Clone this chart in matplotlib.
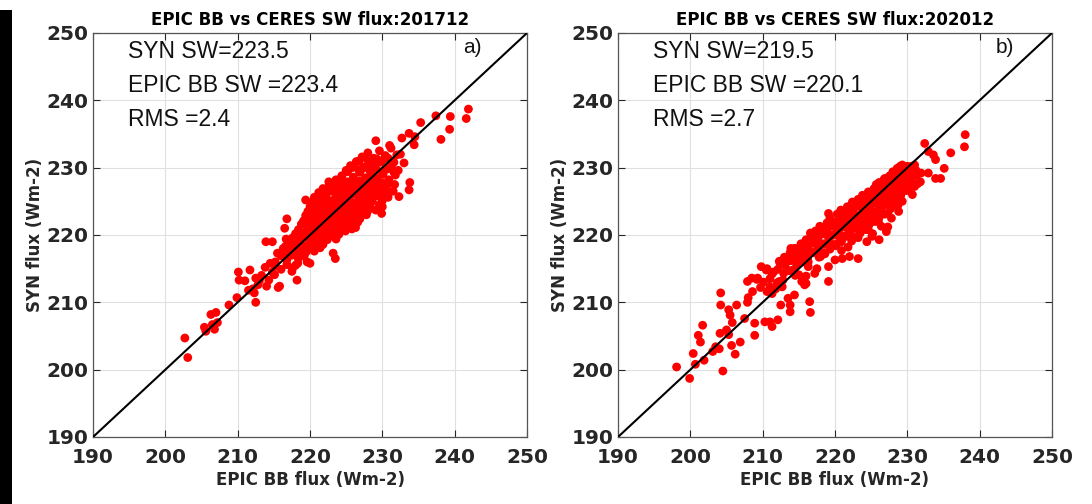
import numpy as np
import matplotlib.pyplot as plt
from matplotlib.patches import Rectangle

# --- data ---
LIMS = [190, 250]
TICKS = [190, 200, 210, 220, 230, 240, 250]

titles = ['EPIC BB vs CERES SW flux:201712', 'EPIC BB vs CERES SW flux:202012']
panel_tags = ['a)', 'b)']
stats_lines = [
    ['SYN SW=223.5', 'EPIC BB SW =223.4', 'RMS =2.4'],
    ['SYN SW=219.5', 'EPIC BB SW =220.1', 'RMS =2.7'],
]

# panel a) 201712  (EPIC BB flux, SYN flux)
epic_1712 = [
    202.7, 203.1, 205.4, 205.6, 206.3, 206.8, 207.0, 207.2, 206.5, 208.8, 209.9, 210.1, 210.2, 211.0,
    211.7, 212.1, 212.3, 212.5, 212.5, 213.0, 213.9, 214.8, 214.0, 214.3, 215.1, 215.6, 215.8, 215.2,
    214.8, 216.5, 216.8, 216.7, 216.3, 217.5, 218.0, 218.2, 218.3, 217.5, 219.4, 219.6, 220.2, 220.0,
    223.2, 223.5, 227.1, 230.0, 229.9, 232.3, 233.8, 233.7, 233.0, 229.1, 232.7, 233.7, 234.4, 234.5,
    235.3, 237.4, 238.1, 239.3, 239.4, 241.6, 241.9, 231.0, 232.5,
    227.2, 228.0, 228.8, 229.6, 230.4, 231.2, 232.0,
    225.6, 226.4, 227.3, 228.1, 228.9, 229.7, 230.5, 231.3, 232.2,
    224.4, 225.2, 226.0, 226.9, 227.7, 228.5, 229.3, 230.1, 230.9, 231.8,
    222.6, 223.4, 224.2, 225.0, 225.8, 226.6, 227.4, 228.2, 229.0, 229.8, 230.6, 231.5,
    221.2, 222.0, 222.8, 223.6, 224.4, 225.2, 226.0, 226.8, 227.6, 228.4, 229.2, 230.0, 230.8,
    220.3, 221.1, 221.9, 222.7, 223.5, 224.3, 225.1, 225.9, 226.7, 227.5, 228.3, 229.1,
    219.7, 220.5, 221.3, 222.1, 222.9, 223.7, 224.5, 225.3, 226.1, 226.9, 227.8,
    219.1, 219.9, 220.7, 221.5, 222.3, 223.1, 223.9, 224.7, 225.5, 226.3,
    218.4, 219.2, 220.0, 220.8, 221.6, 222.4, 223.2, 224.0, 224.9, 225.8,
    217.6, 218.4, 219.2, 220.0, 220.8, 221.6, 222.4, 223.3,
    216.6, 217.4, 218.2, 219.0, 219.8, 220.6, 221.4,
    216.0, 216.8, 217.6, 218.4, 219.2,
    215.2, 216.0, 216.8, 217.6,
    213.3, 213.8, 214.5, 215.5, 216.1, 212.8, 211.5,
    226.8, 227.6, 228.4, 229.2, 230.0, 230.8, 231.6,
    225.0, 225.8, 226.7, 227.5, 228.3, 229.1, 229.9, 230.7, 231.6,
    223.6, 224.4, 225.2, 226.0, 226.8, 227.6, 228.4, 229.2, 230.0, 230.8, 231.7,
    221.8, 222.6, 223.4, 224.2, 225.0, 225.8, 226.6, 227.4, 228.2, 229.0, 229.8, 230.6,
    220.6, 221.4, 222.2, 223.0, 223.8, 224.6, 225.4, 226.2, 227.0, 227.8, 228.6, 229.6,
    220.0, 220.8, 221.6, 222.4, 223.2, 224.0, 224.8, 225.6, 226.4, 227.2, 228.0,
    219.4, 220.2, 221.0, 221.8, 222.6, 223.4, 224.2, 225.0, 225.8, 226.6,
    218.8, 219.6, 220.4, 221.2, 222.0, 222.8, 223.6, 224.4, 225.2,
    218.0, 218.8, 219.6, 220.4, 221.2, 222.0, 222.8, 223.6,
    217.0, 217.8, 218.6, 219.4, 220.2, 221.0, 221.8,
    216.3, 217.1, 217.9, 218.7, 219.5,
]
syn_1712 = [
    204.7, 201.8, 206.3, 205.7, 208.2, 206.0, 208.5, 207.0, 206.7, 209.6, 210.7, 214.5, 213.3, 213.2,
    214.8, 212.0, 211.4, 213.6, 210.0, 213.2, 219.0, 219.0, 212.4, 213.3, 214.1, 212.2, 212.4, 216.0,
    214.5, 221.0, 222.4, 219.4, 218.0, 217.0, 215.5, 213.3, 215.8, 214.6, 225.2, 216.0, 218.3, 215.8,
    217.3, 216.5, 223.0, 224.2, 223.2, 225.7, 227.8, 226.7, 230.7, 234.0, 234.4, 235.1, 233.4, 234.6,
    236.7, 237.7, 234.2, 235.7, 237.6, 237.3, 238.7, 233.3, 232.0,
    231.6, 232.2, 231.4, 232.5, 231.8, 232.9, 231.9,
    230.3, 230.9, 229.9, 230.7, 230.1, 230.8, 229.8, 230.4, 229.6,
    228.8, 229.4, 228.6, 229.3, 228.5, 229.1, 228.4, 229.0, 228.2, 228.9,
    227.9, 227.2, 228.1, 227.4, 227.8, 227.0, 227.6, 226.9, 227.5, 226.8, 227.3, 226.5,
    226.3, 225.8, 226.5, 225.7, 226.2, 225.5, 226.1, 225.4, 225.9, 225.2, 225.8, 225.1, 225.6,
    224.9, 224.4, 225.0, 224.3, 224.8, 224.1, 224.6, 223.9, 224.5, 223.8, 224.4, 223.7,
    223.5, 222.9, 223.6, 223.0, 223.4, 222.7, 223.3, 222.6, 223.1, 222.4, 223.0,
    222.1, 221.6, 222.3, 221.7, 222.2, 221.5, 222.0, 221.3, 221.9, 221.1,
    220.8, 220.3, 221.0, 220.4, 220.9, 220.2, 220.7, 220.1, 220.6, 220.9,
    219.6, 219.1, 219.7, 219.0, 219.5, 218.9, 219.3, 219.8,
    218.3, 217.8, 218.4, 217.7, 218.2, 217.6, 218.1,
    216.9, 216.3, 217.1, 216.5, 216.9,
    215.4, 214.9, 215.6, 215.1,
    214.0, 215.2, 215.8, 217.3, 217.5, 212.6, 211.8,
    231.0, 231.5, 230.9, 231.3, 231.1, 231.4, 230.8,
    229.6, 230.0, 229.7, 230.1, 229.5, 229.9, 229.4, 229.8, 229.3,
    228.2, 228.6, 227.9, 228.4, 228.0, 228.3, 227.8, 228.2, 227.7, 227.9, 227.5,
    226.9, 227.2, 226.6, 227.0, 226.5, 226.9, 226.4, 226.7, 226.2, 226.5, 226.0, 226.3,
    225.6, 225.2, 225.7, 225.1, 225.5, 225.0, 225.3, 224.8, 225.2, 224.7, 225.0, 224.5,
    224.2, 223.8, 224.3, 223.7, 224.1, 223.5, 223.9, 223.4, 223.8, 223.2, 223.6,
    222.9, 222.4, 222.8, 222.3, 222.7, 222.2, 222.6, 222.0, 222.5, 221.9,
    221.6, 221.1, 221.5, 221.0, 221.4, 220.9, 221.3, 220.8, 221.2,
    220.2, 219.8, 220.3, 219.7, 220.1, 219.6, 220.0, 219.4,
    218.9, 218.5, 219.0, 218.4, 218.8, 218.3, 218.6,
    217.6, 217.2, 217.7, 217.1, 217.5,
]

# panel b) 202012
epic_2012 = [
    198.1, 199.9, 200.4, 200.7, 201.7, 201.1, 201.4, 201.9, 203.1, 203.5, 204.1, 204.0, 204.2, 204.2,
    204.5, 205.3, 205.5, 205.0, 205.3, 205.7, 206.2, 206.4, 205.8, 206.9, 207.5, 208.0, 207.9, 208.6,
    207.9, 208.5, 208.9, 208.9, 209.3, 209.8, 210.3, 211.0, 211.3, 210.6, 211.5, 211.0, 211.3, 212.1,
    212.3, 212.7, 212.4, 213.2, 213.9, 212.5, 213.5, 213.8, 213.8, 214.4, 214.2, 215.0, 214.4, 215.3,
    215.4, 215.8, 216.3, 216.1, 216.3, 216.6, 216.5, 216.6, 216.0, 216.0, 217.2, 217.5, 218.0, 217.6,
    218.1, 218.6, 219.1, 219.1, 219.1, 220.0, 221.0, 222.0, 223.2, 224.4, 225.1, 226.1, 227.1, 227.3,
    228.8, 231.8, 231.0, 231.9, 232.9, 233.9, 234.6, 235.1, 232.4, 232.9, 233.6, 233.9, 236.0, 238.0,
    237.9, 231.0, 230.0, 229.0, 229.5,
    228.6, 229.3, 229.9, 230.6, 231.2,
    227.5, 228.2, 228.9, 229.6, 230.4, 231.3,
    226.1, 226.8, 227.5, 228.2, 228.9, 229.7, 230.5, 231.4,
    225.4, 226.1, 226.9, 227.6, 228.3, 229.1, 229.9, 230.7,
    223.8, 224.6, 225.3, 226.1, 226.8, 227.6, 228.4, 229.3,
    222.4, 223.1, 223.9, 224.6, 225.4, 226.1, 226.9, 227.7, 228.6,
    220.8, 221.5, 222.3, 223.0, 223.8, 224.5, 225.3, 226.1, 226.9, 227.8,
    219.3, 220.1, 220.9, 221.6, 222.4, 223.1, 223.9, 224.7, 225.5, 226.4,
    217.9, 218.7, 219.5, 220.3, 221.1, 221.9, 222.7, 223.5, 224.3, 225.2,
    216.7, 217.5, 218.3, 219.1, 219.9, 220.7, 221.5, 222.3, 223.2,
    215.3, 216.1, 216.9, 217.7, 218.5, 219.3, 220.1, 220.9, 221.8,
    213.8, 214.6, 215.4, 216.2, 217.0, 217.8, 218.6,
    212.3, 213.1, 213.9, 214.7, 215.5, 216.3,
    210.5, 211.3, 212.1, 212.9, 213.7, 214.5,
    209.2, 210.1, 211.0, 212.0, 212.8,
    209.7, 210.6, 211.8,
    228.0, 228.7, 229.4, 230.1, 230.8,
    226.9, 227.6, 228.3, 229.0, 229.8, 230.6,
    225.7, 226.4, 227.2, 227.9, 228.6, 229.4, 230.2,
    224.6, 225.3, 226.1, 226.8, 227.5, 228.3, 229.1,
    223.2, 224.0, 224.7, 225.5, 226.2, 227.0, 227.8, 228.7,
    221.7, 222.5, 223.2, 224.0, 224.8, 225.6, 226.4, 227.3,
    220.3, 221.1, 221.9, 222.7, 223.5, 224.3, 225.1, 226.0,
    218.9, 219.7, 220.5, 221.3, 222.1, 222.9, 223.7, 224.6,
    217.3, 218.1, 218.9, 219.7, 220.5, 221.3, 222.1, 223.0,
    216.0, 216.8, 217.6, 218.4, 219.2, 220.0, 220.9,
    214.5, 215.3, 216.1, 216.9, 217.7, 218.5,
    213.0, 213.8, 214.6, 215.4, 216.2,
]
syn_2012 = [
    200.4, 198.7, 202.4, 200.8, 206.6, 205.1, 204.1, 201.4, 202.7, 203.4, 205.4, 203.1, 211.4, 209.6,
    199.8, 208.9, 208.1, 205.9, 205.2, 203.6, 202.3, 209.6, 207.0, 204.1, 207.6, 210.7, 210.0, 211.6,
    213.1, 213.6, 206.9, 205.1, 213.6, 215.3, 207.1, 212.3, 211.3, 215.0, 214.5, 207.1, 206.4, 207.4,
    213.1, 212.3, 215.8, 216.3, 218.0, 209.6, 210.6, 209.6, 208.6, 211.1, 214.8, 214.1, 218.0, 217.0,
    213.1, 212.6, 218.0, 216.5, 216.0, 220.3, 210.1, 208.5, 213.9, 212.8, 214.3, 215.0, 216.8, 218.3,
    220.3, 221.2, 213.1, 215.3, 223.2, 216.3, 216.5, 216.8, 216.5, 219.0, 219.8, 219.3, 220.5, 221.2,
    223.5, 227.9, 227.2, 229.2, 229.2, 228.4, 228.4, 229.9, 233.6, 232.4, 231.9, 231.2, 232.2, 234.9,
    233.1, 230.4, 230.2, 230.2, 229.7,
    229.9, 230.4, 229.7, 230.2, 229.6,
    228.7, 229.3, 228.6, 229.1, 228.5, 228.9,
    227.8, 228.3, 227.6, 228.1, 227.4, 227.9, 227.2, 227.6,
    226.9, 226.3, 227.0, 226.4, 226.8, 226.1, 226.6, 226.0,
    225.9, 225.3, 226.0, 225.4, 225.8, 225.1, 225.6, 225.0,
    224.9, 224.3, 224.8, 224.2, 224.7, 224.0, 224.5, 223.9, 224.4,
    223.7, 223.1, 223.6, 222.9, 223.4, 222.8, 223.3, 222.6, 223.1, 222.5,
    222.5, 221.9, 222.6, 222.0, 222.4, 221.7, 222.2, 221.5, 222.0, 221.3,
    221.3, 220.7, 221.4, 220.8, 221.2, 220.5, 221.0, 220.3, 220.8, 220.2,
    220.0, 219.5, 220.2, 219.6, 220.0, 219.3, 219.8, 219.1, 219.6,
    218.7, 218.1, 218.8, 218.2, 218.6, 217.9, 218.4, 217.7, 218.2,
    217.4, 216.9, 217.6, 217.0, 217.4, 216.7, 217.2,
    216.1, 215.5, 216.2, 215.6, 216.0, 215.3,
    214.8, 214.2, 214.9, 214.3, 214.7, 214.0,
    213.4, 213.0, 213.5, 212.9, 213.3,
    212.2, 211.6, 212.0,
    229.4, 229.8, 229.3, 229.7, 229.2,
    228.4, 228.8, 228.2, 228.6, 228.0, 228.3,
    227.5, 227.1, 227.6, 227.0, 227.3, 226.8, 227.1,
    226.4, 225.9, 226.3, 225.8, 226.1, 225.6, 225.9,
    225.3, 224.9, 225.4, 224.8, 225.2, 224.6, 225.0, 224.4,
    224.2, 223.8, 224.3, 223.6, 224.0, 223.4, 223.8, 223.2,
    223.1, 222.6, 223.0, 222.4, 222.8, 222.2, 222.6, 222.0,
    221.8, 221.3, 221.9, 221.2, 221.6, 221.0, 221.4, 220.8,
    220.6, 220.1, 220.7, 220.0, 220.4, 219.8, 220.2, 219.7,
    219.3, 218.9, 219.4, 218.7, 219.1, 218.6, 219.0,
    218.0, 217.5, 218.1, 217.4, 217.8, 217.3,
    216.7, 216.2, 216.8, 216.1, 216.5,
]

panels = [(epic_1712, syn_1712), (epic_2012, syn_2012)]

# --- figure ---
W, H = 1092, 504
fig = plt.figure(figsize=(W / 100, H / 100), dpi=100)
fig.patch.set_facecolor('white')
fig.patches.append(Rectangle((0, 0), 12 / W, 494 / H, transform=fig.transFigure,
                             facecolor='black', edgecolor='none'))

axes_px = [(93, 527), (618, 1052)]
top_px, bot_px = 33, 437
dark = '#262626'

for i, (x0, x1) in enumerate(axes_px):
    ax = fig.add_axes([x0 / W, 1 - bot_px / H, (x1 - x0) / W, (bot_px - top_px) / H])
    xs, ys = panels[i]

    ax.grid(True, color='#e0e0e0', linewidth=0.8)
    ax.set_axisbelow(True)
    ax.plot(LIMS, LIMS, color='black', linewidth=1.5, zorder=3)
    ax.scatter(xs, ys, s=40, c='#ff0000', edgecolors='none', zorder=2)

    ax.set_xlim(LIMS)
    ax.set_ylim(LIMS)
    ax.set_xticks(TICKS)
    ax.set_yticks(TICKS)
    ax.set_xticklabels([str(t) for t in TICKS], fontweight='bold')
    ax.set_yticklabels([str(t) for t in TICKS], fontweight='bold')
    ax.tick_params(direction='in', top=True, right=True, length=5, width=0.8,
                   labelsize=14.5, colors=dark)
    ax.tick_params(axis='y', pad=3)
    ax.tick_params(axis='x', pad=8)
    for sp in ax.spines.values():
        sp.set_color('#555555')
        sp.set_linewidth(0.9)

    ax.set_title(titles[i], fontsize=12, fontweight='bold', color='black', pad=6)
    ax.set_xlabel('EPIC BB flux (Wm-2)', fontsize=12, fontweight='bold', color=dark, labelpad=3)
    ax.set_ylabel('SYN flux (Wm-2)', fontsize=12, fontweight='bold', color=dark, labelpad=2)

    for k, line in enumerate(stats_lines[i]):
        ax.text(0.08, 0.953 - k * 0.084, line, transform=ax.transAxes, fontsize=16.5,
                family='Liberation Sans', va='center', ha='left', color='#111111')
    ax.text(0.875 + 0.017 * i, 0.963, panel_tags[i], transform=ax.transAxes, fontsize=15,
            family='Liberation Sans', va='center', ha='center', color='#111111')

fig.savefig('out.png', dpi=100)
